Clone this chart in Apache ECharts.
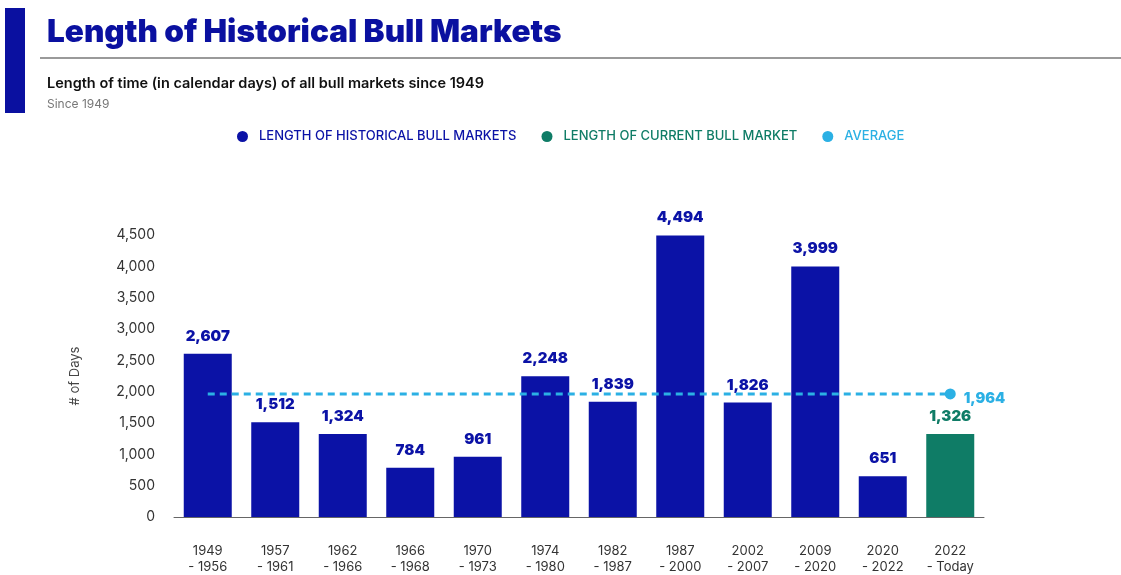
<!DOCTYPE html>
<html><head><meta charset="utf-8">
<script src="https://cdn.jsdelivr.net/npm/echarts@6/dist/echarts.min.js"></script>
<style>html,body{margin:0;padding:0;background:#fff}#c{width:1121px;height:575px}</style>
</head><body><div id="c"></div>
<script>
const categories = ['1949\n- 1956','1957\n- 1961','1962\n- 1966','1966\n- 1968','1970\n- 1973','1974\n- 1980','1982\n- 1987','1987\n- 2000','2002\n- 2007','2009\n- 2020','2020\n- 2022','2022\n- Today'];
const historical = [2607,1512,1324,784,961,2248,1839,4494,1826,3999,651,null];
const current = [null,null,null,null,null,null,null,null,null,null,null,1326];
const averageValue = 1964;
const yTicks = {min:0, max:4500, interval:500};

const NAVY = '#0b12a6', GREEN = '#0f7c66', LIGHT = '#2bb0e4';
const avgData = categories.map(() => averageValue);
const fmt = v => Number(v).toLocaleString('en-US');
const FONT = 'Inter';

const chart = echarts.init(document.getElementById('c'));
chart.setOption({
  animation:false,
  backgroundColor:'#fff',
  textStyle:{fontFamily:FONT},
  title:[
    {text:'Length of Historical Bull Markets', left:42, top:12,
     textStyle:{fontFamily:FONT, fontWeight:900, fontSize:31.5, color:'#0a10a0'}},
    {text:'Length of time (in calendar days) of all bull markets since 1949', left:42, top:71,
     textStyle:{fontFamily:FONT, fontWeight:600, fontSize:14.5, color:'#111'}},
    {text:'Since 1949', left:42, top:93,
     textStyle:{fontFamily:FONT, fontWeight:400, fontSize:12, color:'#777'}}
  ],
  graphic:[
    {type:'rect', shape:{x:5,y:8,width:20,height:105}, style:{fill:'#0a10a0'}},
    {type:'rect', shape:{x:40,y:57,width:1081,height:2}, style:{fill:'#9a9a9a'}}
  ],
  legend:{
    top:125, left:232, itemGap:25, itemWidth:11, itemHeight:11, icon:'circle',
    data:[
      {name:'LENGTH OF HISTORICAL BULL MARKETS', textStyle:{color:NAVY}},
      {name:'LENGTH OF CURRENT BULL MARKET', textStyle:{color:GREEN}},
      {name:'AVERAGE', textStyle:{color:LIGHT}}
    ],
    textStyle:{fontFamily:FONT, fontSize:13, fontWeight:500, padding:[0,0,0,6]}
  },
  grid:{left:174, right:137, top:235, bottom:58},
  xAxis:{
    type:'category', data:categories,
    axisLine:{lineStyle:{color:'#666'}}, axisTick:{show:false},
    axisLabel:{margin:26, fontSize:13, lineHeight:16, color:'#333', fontFamily:FONT, interval:0}
  },
  yAxis:{
    type:'value', min:yTicks.min, max:yTicks.max, interval:yTicks.interval,
    name:'# of Days', nameLocation:'middle', nameGap:92, nameRotate:90,
    nameTextStyle:{fontSize:13, color:'#444', fontFamily:FONT},
    splitLine:{show:false}, axisLine:{show:false}, axisTick:{show:false},
    axisLabel:{margin:19, fontSize:14, color:'#333', fontFamily:FONT, formatter:v=>fmt(v)}
  },
  series:[
    {name:'LENGTH OF HISTORICAL BULL MARKETS', type:'bar', data:historical, barWidth:48, barGap:'-100%',
     itemStyle:{color:NAVY},
     label:{show:true, position:'top', distance:10, fontWeight:900, fontSize:15, color:NAVY, fontFamily:FONT,
            formatter:p=>fmt(p.value)}},
    {name:'LENGTH OF CURRENT BULL MARKET', type:'bar', data:current, barWidth:48,
     itemStyle:{color:GREEN},
     label:{show:true, position:'top', distance:10, fontWeight:900, fontSize:15, color:GREEN, fontFamily:FONT,
            formatter:p=>fmt(p.value)}},
    {name:'AVERAGE', type:'line', data:avgData, z:5,
     itemStyle:{color:LIGHT},
     lineStyle:{color:LIGHT, width:3, type:[7,5]},
     symbol:'circle', symbolSize:(v,p)=> p.dataIndex===categories.length-1 ? 11 : 0,
     showSymbol:true,
     label:{show:true, position:'right', distance:8, offset:[0,5], fontWeight:900, fontSize:14.5, color:LIGHT, fontFamily:FONT,
            formatter:p=> p.dataIndex===categories.length-1 ? fmt(p.value) : ''}}
  ]
});
</script></body></html>
